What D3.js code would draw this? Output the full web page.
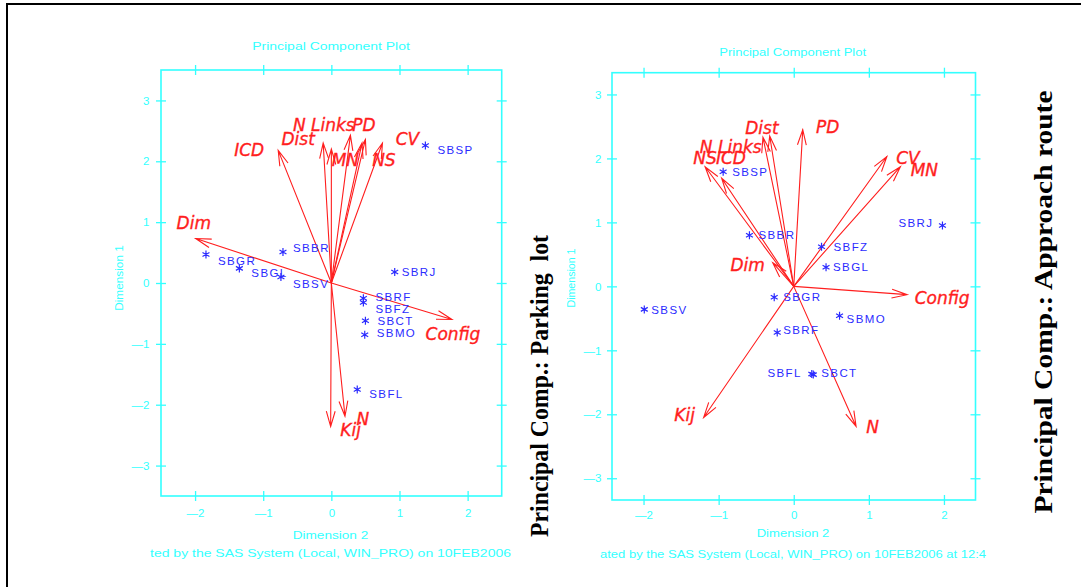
<!DOCTYPE html>
<html><head><meta charset="utf-8">
<script src="https://cdn.jsdelivr.net/npm/d3@7"></script>
<style>body{margin:0;background:#fff;} svg{display:block}</style>
</head><body>
<svg id="c" width="1081" height="587"></svg>
<script>
// ---------- DATA ----------
const obsNames = ["SBSP","SBBR","SBGR","SBGL","SBSV","SBRJ","SBRF","SBFZ","SBCT","SBMO","SBFL"];
const parkDim2 = [1.38,-0.71,-1.84,-1.35,-0.74,0.93,0.47,0.47,0.50,0.49,0.38];
const parkDim1 = [2.26,0.51,0.47,0.24,0.10,0.18,-0.25,-0.32,-0.62,-0.85,-1.75];
const routeDim2 = [-0.94,-0.59,-0.26,0.43,-1.99,1.98,-0.22,0.37,0.26,0.61,0.24];
const routeDim1 = [1.79,0.80,-0.17,0.30,-0.36,0.95,-0.72,0.62,-1.38,-0.46,-1.37];

const varNames = ["N Links","Dist","ICD","NS","PD","MN","CV","Dim","Config","Kij","N"];
const parkVecDim2 = [0.00,-0.12,-0.78,0.50,0.28,0.45,0.75,-1.99,1.77,-0.01,0.20];
const parkVecDim1 = [2.20,2.30,2.18,2.36,2.43,2.30,2.30,0.73,-0.60,-2.36,-2.19];
const routeVecDim2 = [-0.32,-0.41,-0.96,-1.18,0.12,1.42,1.24,-0.28,1.51,-1.20,0.83];
const routeVecDim1 = [2.35,2.33,1.69,1.87,2.45,1.87,2.03,0.37,-0.13,-2.05,-2.19];

const xTicks = [-2,-1,0,1,2];
const yTicks = [-3,-2,-1,0,1,2,3];
const plotTitle = "Principal Component Plot";
const xTitle = "Dimension 2", yTitle = "Dimension 1";
const parkFooter = "ted by the SAS System (Local, WIN_PRO) on 10FEB2006";
const routeFooter = "ated by the SAS System (Local, WIN_PRO) on 10FEB2006 at 12:4";
const parkCaption = "Principal Comp.: Parking  lot";
const routeCaption = "Principal Comp.: Approach route";

// ---------- LABEL PLACEMENT (px offsets, style only) ----------
const parkVecLabelOff = [[-7.5,-24],[-25,-4],[-29,0],[18.5,21],[13.5,-10],[-16.6,17],[25,-4],[-2,-15.5],[1,14],[20,3],[18,2.5]];
const routeVecLabelOff = [[-39,11],[-1,-9.4],[9.3,-20],[0,-9],[25,-3],[24,3],[21,1.5],[-25,2],[35,3.5],[-19,-3],[16.5,0]];
const parkObsLabelOff = [[12,4],[10,-4],[12,6],[12,4],[12,7],[7,0],[12,-1],[12,6],[12,0],[12,-2],[12,4]];
const routeObsLabelOff = [[9,0],[9,0],[9,0],[7,0],[7,0],[-9,-3],[6,-3],[12,0],[8,-2],[7,3],[-10,-1]];

const CYAN = "#33ffff", RED = "#ff1e1e", BLUE = "#2b2bff";
const svg = d3.select("#c");

// outer page frame
svg.append("path").attr("d","M6,4H1081M7,4V587").attr("stroke","#000").attr("stroke-width",2).attr("fill","none");

function fmt(d){ return d < 0 ? "\u2014" + Math.abs(d) : String(d); }

function panel(cfg){
  const x = d3.scaleLinear().domain(cfg.xd).range(cfg.xr);
  const y = d3.scaleLinear().domain(cfg.yd).range(cfg.yr);
  const g = svg.append("g");
  const [x0,x1] = cfg.xr, [y1,y0] = cfg.yr;

  g.append("rect").attr("x",x0).attr("y",y0).attr("width",x1-x0).attr("height",y1-y0)
    .attr("fill","none").attr("stroke",CYAN).attr("stroke-width",1.6);

  const styleAxis = (sel, horizontal) => {
    sel.select(".domain").remove();
    sel.selectAll(".tick line").attr("stroke",CYAN).attr("stroke-width",1.3)
      .attr(horizontal ? "y1" : "x1", function(){ return -(+d3.select(this).attr(horizontal?"y2":"x2")); });
    sel.selectAll(".tick text").attr("fill",CYAN).attr("font-family","Liberation Sans, Arial, sans-serif").attr("font-size",11.5);
  };
  g.append("g").attr("transform",`translate(0,${y1})`)
    .call(d3.axisBottom(x).tickValues(xTicks).tickSize(5).tickSizeOuter(0).tickPadding(cfg.xpad).tickFormat(fmt))
    .call(s=>styleAxis(s,true));
  g.append("g").attr("transform",`translate(0,${y0})`)
    .call(d3.axisTop(x).tickValues(xTicks).tickSize(5).tickSizeOuter(0).tickFormat(""))
    .call(s=>styleAxis(s,true));
  g.append("g").attr("transform",`translate(${x0},0)`)
    .call(d3.axisLeft(y).tickValues(yTicks).tickSize(5).tickSizeOuter(0).tickPadding(cfg.ypad).tickFormat(fmt))
    .call(s=>styleAxis(s,false));
  g.append("g").attr("transform",`translate(${x1},0)`)
    .call(d3.axisRight(y).tickValues(yTicks).tickSize(5).tickSizeOuter(0).tickFormat(""))
    .call(s=>styleAxis(s,false));

  const cyanText = (t, px, py, len, rot) => {
    const e = g.append("text").text(t).attr("fill",CYAN)
      .attr("font-family","Liberation Sans, Arial, sans-serif").attr("font-size",11.5)
      .attr("text-anchor","middle").attr("textLength",len).attr("lengthAdjust","spacingAndGlyphs");
    if (rot) e.attr("transform",`translate(${px},${py}) rotate(-90)`);
    else e.attr("x",px).attr("y",py);
    return e;
  };
  cyanText(plotTitle, cfg.title[0], cfg.title[1], cfg.title[2]);
  cyanText(xTitle, cfg.xt[0], cfg.xt[1], cfg.xt[2]);
  cyanText(yTitle, cfg.yt[0], cfg.yt[1], cfg.yt[2], true);
  cyanText(cfg.footer, cfg.foot[0], cfg.foot[1], cfg.foot[2]).attr("text-anchor","start");

  // vectors
  const ox = x(0), oy = y(0);
  const vec = g.append("g").attr("stroke",RED).attr("stroke-width",1.1).attr("fill","none");
  cfg.vx.forEach((vx,i)=>{
    const tx = x(vx), ty = y(cfg.vy[i]);
    const ang = Math.atan2(ty-oy, tx-ox);
    const L = 16, a = 16*Math.PI/180;
    const p = d3.path();
    p.moveTo(ox,oy); p.lineTo(tx,ty);
    p.moveTo(tx - L*Math.cos(ang-a), ty - L*Math.sin(ang-a)); p.lineTo(tx,ty);
    p.lineTo(tx - L*Math.cos(ang+a), ty - L*Math.sin(ang+a));
    vec.append("path").attr("d",p.toString());
    const off = cfg.vlab[i];
    g.append("text").text(varNames[i]).attr("x",tx+off[0]).attr("y",ty+off[1])
      .attr("dy","0.36em").attr("text-anchor","middle").attr("fill",RED)
      .attr("stroke",RED).attr("stroke-width",0.35)
      .attr("font-family","DejaVu Sans, sans-serif").attr("font-style","italic").attr("font-size",17)
      .style("white-space","pre");
  });

  // observations
  const obs = g.append("g");
  cfg.px.forEach((px,i)=>{
    const cx = x(px), cy = y(cfg.py[i]);
    const r = 4, p = d3.path();
    [90,30,150].forEach(deg=>{
      const t = deg*Math.PI/180;
      p.moveTo(cx - r*Math.cos(t), cy - r*Math.sin(t)); p.lineTo(cx + r*Math.cos(t), cy + r*Math.sin(t));
    });
    obs.append("path").attr("d",p.toString()).attr("stroke",BLUE).attr("stroke-width",1.2);
    const off = cfg.plab[i];
    obs.append("text").text(obsNames[i]).attr("x",cx+off[0]).attr("y",cy+off[1]).attr("dy","0.36em")
      .attr("text-anchor", off[0] < 0 ? "end" : "start").attr("fill",BLUE)
      .attr("font-family","Liberation Sans, Arial, sans-serif").attr("font-size",11.5).attr("letter-spacing",1.4);
  });

  // caption (black rotated)
  svg.append("text").text(cfg.caption)
    .attr("transform",`translate(${cfg.cap[0]},${cfg.cap[1]}) rotate(-90)`)
    .attr("text-anchor","middle").attr("dy","0.35em")
    .attr("font-family","Liberation Serif, Times New Roman, serif").attr("font-weight","bold").attr("font-size",25)
    .attr("textLength",cfg.cap[2]).attr("lengthAdjust","spacingAndGlyphs").style("white-space","pre");
}

panel({
  xd:[-2.5,2.5], xr:[161,501.7], yd:[-3.5,3.5], yr:[496,70],
  xpad:8, ypad:6.5,
  title:[331,49.5,157.6], xt:[330.5,539,75.6], yt:[123,278,65.7],
  footer:parkFooter, foot:[150,556.5,361],
  px:parkDim2, py:parkDim1, plab:parkObsLabelOff,
  vx:parkVecDim2, vy:parkVecDim1, vlab:parkVecLabelOff,
  caption:parkCaption, cap:[539,386,302]
});
panel({
  xd:[-2.42,2.42], xr:[612,975.5], yd:[-3.34,3.34], yr:[500,72.7],
  xpad:6, ypad:5.5,
  title:[792.7,56,146.7], xt:[793,537,72.7], yt:[575,278,59],
  footer:routeFooter, foot:[600,558,386],
  px:routeDim2, py:routeDim1, plab:routeObsLabelOff,
  vx:routeVecDim2, vy:routeVecDim1, vlab:routeVecLabelOff,
  caption:routeCaption, cap:[1043,302,423]
});
</script>
</body></html>
